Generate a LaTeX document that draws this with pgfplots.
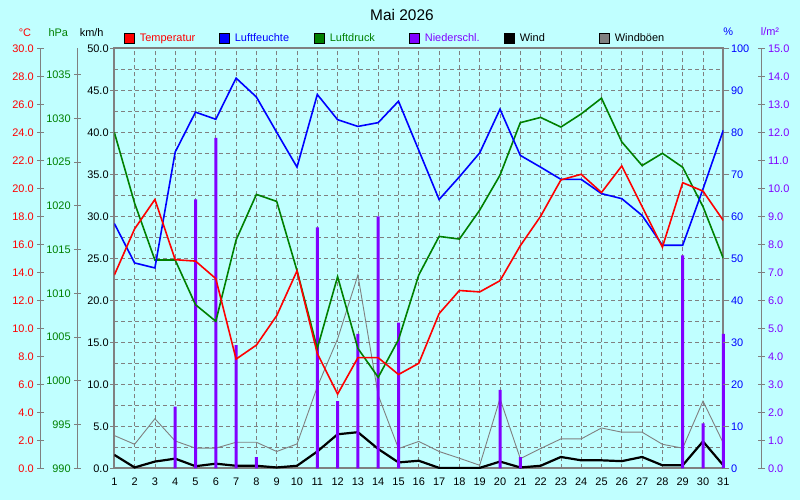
\documentclass[border=0pt]{standalone}
\usepackage{fontspec}
\setmainfont{Liberation Sans}
\usepackage{pgfplots}
\pgfplotsset{compat=1.18}
\definecolor{bgc}{HTML}{C0FFFF}
\definecolor{cgray}{HTML}{808080}
\definecolor{cgreen}{HTML}{008000}
\definecolor{cpurple}{HTML}{8000FF}
\newcommand{\tl}{\fontsize{11}{13}\selectfont}
\pgfplotsset{
  base/.style={scale only axis, width=609bp, height=420bp, xmin=1, xmax=31,
    /pgf/number format/assume math mode=true,
    tick label style={font=\tl}},
  onedec/.style={yticklabel style={/pgf/number format/fixed, /pgf/number format/fixed zerofill, /pgf/number format/precision=1}},
  scaleax/.style={scale only axis, width=1bp, height=420bp, xmin=0, xmax=1,
    /pgf/number format/assume math mode=true,
    tick label style={font=\tl},
    axis x line=none, y axis line style={cgray, line width=1bp},
    ytick style={cgray, line width=1bp}, tick align=center, major tick length=7bp},
}
\begin{document}
\begin{tikzpicture}
\fill[bgc] (-114.3bp,-31.7bp) rectangle (685.7bp,468.3bp);
% main axis: km/h (wind)
\begin{axis}[base, ymin=0, ymax=50,
  axis line style={cgray, line width=2bp},
  xtick={1,...,31}, xtick style={draw=none},
  xticklabel style={yshift=-2.5bp},
  ytick={0,5,...,50}, minor ytick={2.5,7.5,...,47.5}, ytick pos=left,
  tick align=outside, major tick length=4bp, minor tick length=0pt,
  ytick style={cgray, line width=1bp},
  yticklabel style={black, inner sep=1.5bp},
  onedec,
  grid=both,
  major grid style={cgray, line width=0.8bp, dash pattern=on 4bp off 3bp},
  minor grid style={cgray, line width=0.8bp, dash pattern=on 4bp off 3bp},
  legend columns=6,
  legend style={at={(0.01642,1.0245)}, anchor=west, draw=none, fill=none,
    inner sep=0pt, outer sep=0pt, font=\tl, nodes={inner sep=0pt},
    /tikz/every odd column/.append style={column sep=5bp}},
  legend image code/.code={\draw[#1, draw=black, line width=0.6bp] (0bp,-5bp) rectangle (10bp,5bp);},
]
\addlegendimage{fill=red}
\addlegendentry{\makebox[79.4bp][l]{\textcolor{red}{Temperatur}}}
\addlegendimage{fill=blue}
\addlegendentry{\makebox[79.4bp][l]{\textcolor{blue}{Luftfeuchte}}}
\addlegendimage{fill=cgreen}
\addlegendentry{\makebox[79.4bp][l]{\textcolor{cgreen}{Luftdruck}}}
\addlegendimage{fill=cpurple}
\addlegendentry{\makebox[79.4bp][l]{\textcolor{cpurple}{Niederschl.}}}
\addlegendimage{fill=black}
\addlegendentry{\makebox[79.4bp][l]{Wind}}
\addlegendimage{fill=cgray}
\addlegendentry{\makebox[79.4bp][l]{Windböen}}
% gusts
\addplot[forget plot, cgray, line width=0.9bp] coordinates {
(1,3.9)(2,2.86)(3,5.9)(4,3.25)(5,2.4)(6,2.4)(7,3.1)(8,3.1)(9,2.0)(10,2.9)
(11,9.7)(12,15.4)(13,23.0)(14,8.7)(15,2.35)(16,3.2)(17,2.0)(18,1.2)(19,0.36)(20,8.3)
(21,1.15)(22,2.35)(23,3.5)(24,3.5)(25,4.8)(26,4.3)(27,4.3)(28,2.86)(29,2.4)(30,8.0)(31,3.0)};
% wind
\addplot[forget plot, black, line width=2.2bp] coordinates {
(1,1.6)(2,0.1)(3,0.8)(4,1.15)(5,0.25)(6,0.55)(7,0.3)(8,0.3)(9,0.1)(10,0.3)
(11,2.0)(12,4.05)(13,4.3)(14,2.3)(15,0.7)(16,0.9)(17,0.05)(18,0.05)(19,0.05)(20,0.8)
(21,0.1)(22,0.3)(23,1.35)(24,0.95)(25,0.95)(26,0.85)(27,1.35)(28,0.36)(29,0.36)(30,3.2)(31,0.36)};
\end{axis}
% precipitation l/m2
\begin{axis}[base, ymin=0, ymax=15, hide axis, clip=false]
\addplot[ybar, bar width=3bp, fill=cpurple, draw=none] coordinates {
(4,2.2)(5,9.6)(6,11.8)(7,4.4)(8,0.4)(11,8.6)(12,2.4)(13,4.8)(14,9.0)(15,5.2)
(20,2.8)(21,0.4)(29,7.6)(30,1.6)(31,4.8)};
\end{axis}
% pressure hPa
\begin{axis}[base, ymin=990, ymax=1038, hide axis]
\addplot[cgreen, line width=1.6bp] coordinates {
(1,1028.4)(2,1020.3)(3,1013.8)(4,1013.8)(5,1008.7)(6,1006.8)(7,1016.1)(8,1021.3)(9,1020.5)(10,1012.6)
(11,1003.7)(12,1011.9)(13,1003.7)(14,1000.4)(15,1004.7)(16,1012.1)(17,1016.5)(18,1016.2)(19,1019.5)(20,1023.5)
(21,1029.5)(22,1030.1)(23,1029.0)(24,1030.5)(25,1032.3)(26,1027.3)(27,1024.6)(28,1026.0)(29,1024.4)(30,1019.9)(31,1014.0)};
\end{axis}
% humidity %
\begin{axis}[base, ymin=0, ymax=100, axis x line=none, axis y line*=right,
  y axis line style={draw=none}, ytick={0,10,...,100}, tick align=outside, major tick length=6bp,
  ytick style={cgray, line width=1bp}, yticklabel style={blue, inner sep=1.5bp}]
\addplot[blue, line width=1.6bp] coordinates {
(1,58.3)(2,48.9)(3,47.7)(4,75.3)(5,84.8)(6,83.1)(7,92.9)(8,88.4)(9,80.0)(10,71.7)
(11,89.0)(12,83.0)(13,81.4)(14,82.3)(15,87.4)(16,75.7)(17,64.0)(18,69.4)(19,75.1)(20,85.5)
(21,74.5)(22,71.7)(23,68.8)(24,68.8)(25,65.4)(26,64.2)(27,60.2)(28,53.1)(29,53.1)(30,66.5)(31,80.5)};
\end{axis}
% temperature
\begin{axis}[base, ymin=0, ymax=30, hide axis]
\addplot[red, line width=1.6bp] coordinates {
(1,13.8)(2,17.1)(3,19.2)(4,14.9)(5,14.8)(6,13.55)(7,7.8)(8,8.8)(9,10.9)(10,14.1)
(11,8.2)(12,5.3)(13,7.9)(14,7.9)(15,6.7)(16,7.5)(17,11.05)(18,12.7)(19,12.6)(20,13.4)
(21,15.9)(22,18.0)(23,20.6)(24,21.0)(25,19.7)(26,21.6)(27,18.7)(28,15.8)(29,20.4)(30,19.8)(31,17.7)};
\end{axis}
% scale axes
\begin{axis}[scaleax, at={(-73.6bp,0bp)}, ymin=0, ymax=30, axis y line*=left,
  ytick={0,2,...,30}, onedec, yticklabel style={red}]
\end{axis}
\begin{axis}[scaleax, at={(-36.6bp,0bp)}, ymin=990, ymax=1038, axis y line*=left,
  ytick={990,995,...,1035}, /pgf/number format/1000 sep={}, yticklabel style={cgreen}]
\end{axis}
\begin{axis}[scaleax, at={(645.7bp,0bp)}, ymin=0, ymax=15, axis y line*=right,
  ytick={0,1,...,15}, onedec, yticklabel style={cpurple}]
\end{axis}
% titles and units
\node[font=\fontsize{15.5}{18}\selectfont] at (287.7bp,453.3bp) {Mai 2026};
\node[font=\tl, red] at (-89.3bp,435.6bp) {°C};
\node[font=\tl, cgreen] at (-56bp,435.6bp) {hPa};
\node[font=\tl] at (-22.6bp,435.6bp) {km/h};
\node[font=\tl, blue] at (614bp,436.6bp) {\%};
\node[font=\tl, cpurple] at (655.7bp,436.3bp) {l/m²};
\pgfresetboundingbox
\path (-114.3bp,-31.7bp) rectangle (685.7bp,468.3bp);
\end{tikzpicture}
\end{document}
